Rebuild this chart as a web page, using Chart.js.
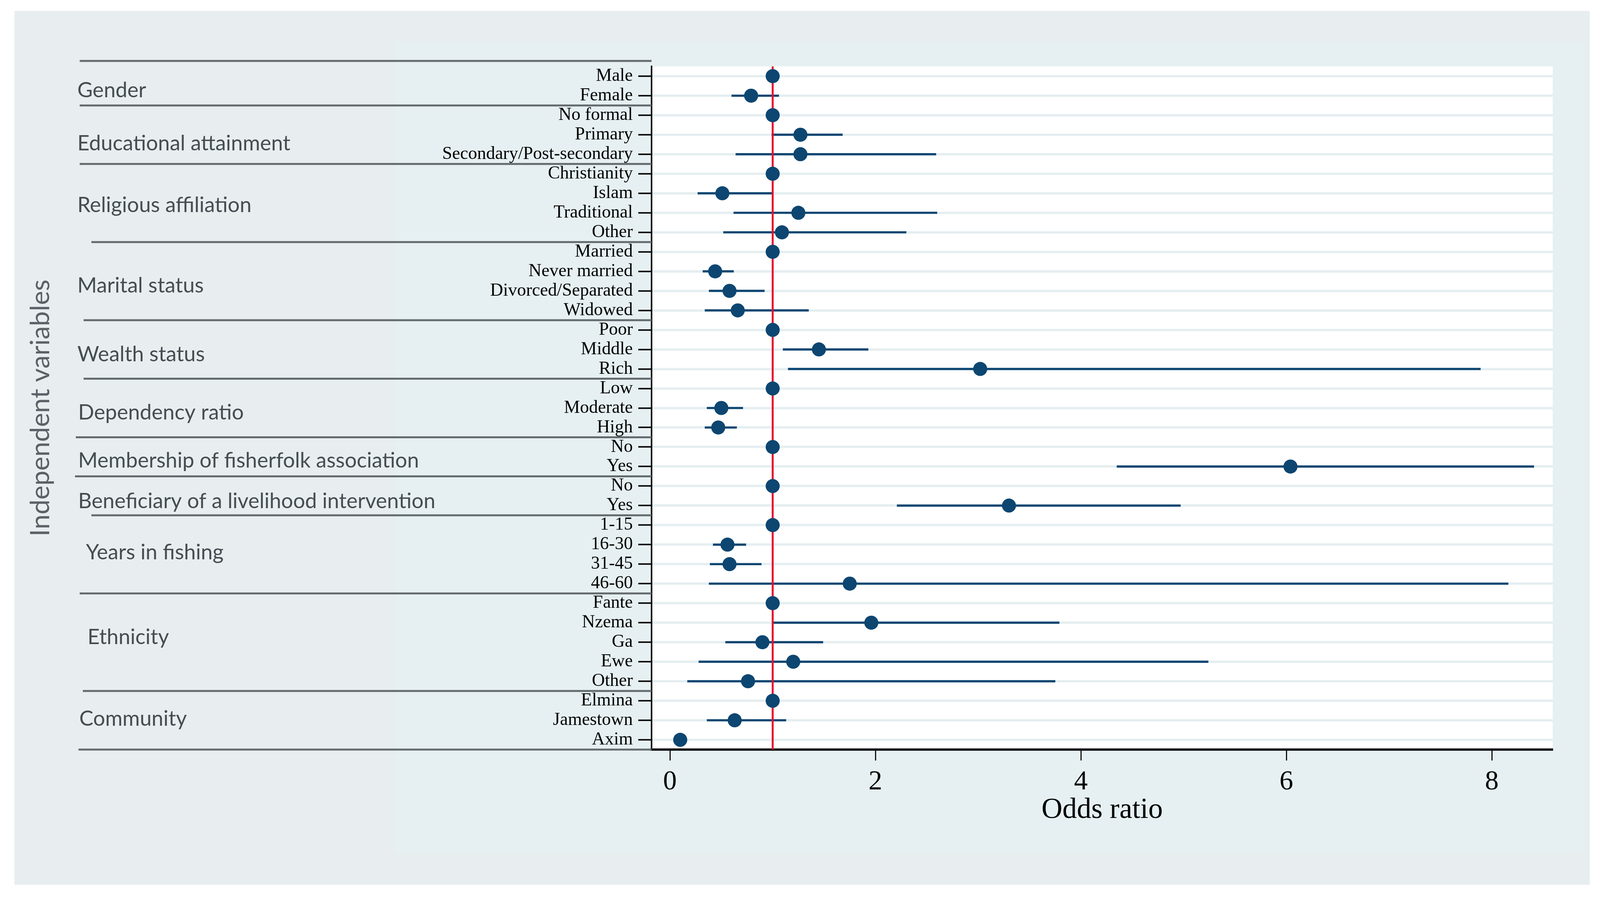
<!DOCTYPE html>
<html>
<head>
<meta charset="utf-8">
<title>Odds ratios</title>
<script src="https://cdn.jsdelivr.net/npm/chart.js@4.4.1/dist/chart.umd.min.js"></script>
<style>
  html, body { margin: 0; padding: 0; background: #ffffff; }
  canvas { display: block; }
</style>
</head>
<body>
<canvas id="orChart" width="4102" height="2299"></canvas>
<script>
// Category rows, top to bottom
const categories = [
    'Male', 'Female',
    'No formal', 'Primary', 'Secondary/Post-secondary',
    'Christianity', 'Islam', 'Traditional', 'Other',
    'Married', 'Never married', 'Divorced/Separated', 'Widowed',
    'Poor', 'Middle', 'Rich',
    'Low', 'Moderate', 'High',
    'No', 'Yes',
    'No', 'Yes',
    '1-15', '16-30', '31-45', '46-60',
    'Fante', 'Nzema', 'Ga', 'Ewe', 'Other',
    'Elmina', 'Jamestown', 'Axim'
];

// Odds ratios (reference categories = 1)
const oddsRatio = [
    1, 0.79,
    1, 1.27, 1.27,
    1, 0.51, 1.25, 1.09,
    1, 0.44, 0.58, 0.66,
    1, 1.45, 3.02,
    1, 0.50, 0.47,
    1, 6.04,
    1, 3.30,
    1, 0.56, 0.58, 1.75,
    1, 1.96, 0.90, 1.20, 0.76,
    1, 0.63, 0.10
];

// 95% confidence intervals (null = reference category, no interval)
const ciLower = [
    null, 0.60,
    null, 0.99, 0.64,
    null, 0.27, 0.62, 0.52,
    null, 0.32, 0.38, 0.34,
    null, 1.10, 1.15,
    null, 0.36, 0.34,
    null, 4.35,
    null, 2.21,
    null, 0.42, 0.39, 0.38,
    null, 1.00, 0.54, 0.28, 0.17,
    null, 0.36, null
];
const ciUpper = [
    null, 1.06,
    null, 1.68, 2.59,
    null, 1.00, 2.60, 2.30,
    null, 0.62, 0.92, 1.35,
    null, 1.93, 7.89,
    null, 0.71, 0.65,
    null, 8.41,
    null, 4.97,
    null, 0.74, 0.89, 8.16,
    null, 3.79, 1.49, 5.24, 3.75,
    null, 1.13, null
];

// Variable groups and how many rows each one covers
const groupNames = [
    'Gender', 'Educational attainment', 'Religious affiliation', 'Marital status',
    'Wealth status', 'Dependency ratio', 'Membership of fisherfolk association',
    'Beneficiary of a livelihood intervention', 'Years in fishing', 'Ethnicity', 'Community'
];
const groupSizes = [2, 3, 4, 4, 3, 3, 2, 2, 4, 5, 3];

const xTicks = [0, 2, 4, 6, 8];
const referenceOdds = 1;

const NAVY = '#0c4671';
const SERIF = "'Liberation Serif', 'Times New Roman', serif";
const SANS = "Lato, 'Open Sans', sans-serif";

const ciData = ciLower.map((lo, i) => (lo === null ? null : [lo, ciUpper[i]]));

// Backgrounds: outer panel, inner panel, white plot area
const backgroundPlugin = {
    id: 'panels',
    beforeDraw(chart) {
        const { ctx, chartArea } = chart;
        ctx.save();
        ctx.fillStyle = '#ffffff';
        ctx.fillRect(0, 0, chart.width, chart.height);
        ctx.fillStyle = '#e8eef0';
        ctx.fillRect(37, 28, 4033, 2237);
        ctx.fillStyle = '#e6f0f2';
        ctx.fillRect(1012, 108, 3041, 2075);
        ctx.fillStyle = '#ffffff';
        ctx.fillRect(chartArea.left, chartArea.top,
            chartArea.right - chartArea.left, chartArea.bottom - chartArea.top);
        ctx.restore();
    }
};

// Red reference line at OR = 1, drawn over the CI bars but under the points
const referencePlugin = {
    id: 'referenceLine',
    afterDatasetDraw(chart, args) {
        if (args.index !== 0) return;
        const { ctx, chartArea } = chart;
        const x = chart.scales.x.getPixelForValue(referenceOdds);
        ctx.save();
        ctx.strokeStyle = '#e3112f';
        ctx.lineWidth = 5;
        ctx.beginPath();
        ctx.moveTo(x, chartArea.top);
        ctx.lineTo(x, chartArea.bottom);
        ctx.stroke();
        ctx.restore();
    }
};

// Group labels and separators in the left margin.
// The original labels were placed by hand, so each one gets a small nudge.
const labelNudgeY = [-1, 10, -7, -1, 0, -1, -2, 2, -17, -25, -16];
const labelIndentX = [0, 0, 0, 0, 0, 2, 2, 2, 22, 26, 5];
const lineStartX = [204, 204, 204, 234, 214, 214, 194, 192, 234, 204, 212, 201];

const groupPlugin = {
    id: 'groups',
    afterDraw(chart) {
        const { ctx } = chart;
        const y = chart.scales.y;
        const half = (y.getPixelForValue(1) - y.getPixelForValue(0)) / 2;
        const lineEnd = chart.chartArea.left;

        const separator = (x0, yy) => {
            ctx.beginPath();
            ctx.moveTo(x0, yy);
            ctx.lineTo(lineEnd, yy);
            ctx.stroke();
        };

        ctx.save();
        ctx.strokeStyle = '#646b6e';
        ctx.lineWidth = 5;
        ctx.fillStyle = '#464d52';
        ctx.font = `54px ${SANS}`;
        ctx.textAlign = 'left';
        ctx.textBaseline = 'alphabetic';

        let start = 0;
        groupNames.forEach((name, g) => {
            const end = start + groupSizes[g] - 1;
            const top = y.getPixelForValue(start) - half - (g === 0 ? 14 : 0);
            separator(lineStartX[g], top);

            const mid = (y.getPixelForValue(start) + y.getPixelForValue(end)) / 2;
            ctx.fillText(name, 198 + labelIndentX[g], mid + 30 + labelNudgeY[g]);
            start = end + 1;
        });
        separator(lineStartX[groupNames.length], y.getPixelForValue(categories.length - 1) + half);
        ctx.restore();
    }
};

const ctx = document.getElementById('orChart').getContext('2d');
new Chart(ctx, {
    type: 'bar',
    data: {
        labels: categories,
        datasets: [
            {
                label: '95% CI',
                data: ciData,
                backgroundColor: NAVY,
                borderWidth: 0,
                barThickness: 5,
                order: 1
            },
            {
                type: 'line',
                label: 'Odds ratio',
                data: oddsRatio,
                showLine: false,
                pointStyle: 'circle',
                pointRadius: 18,
                pointHoverRadius: 18,
                pointBorderWidth: 0,
                pointBackgroundColor: NAVY,
                order: 0
            }
        ]
    },
    options: {
        indexAxis: 'y',
        responsive: false,
        animation: false,
        devicePixelRatio: 1,
        layout: {
            padding: { top: 170, right: 127, left: 0, bottom: 0 }
        },
        plugins: {
            legend: { display: false },
            tooltip: { enabled: false }
        },
        scales: {
            y: {
                type: 'category',
                offset: true,
                afterFit(scale) { scale.width = 1668; },
                grid: {
                    offset: false,
                    color: '#e5eef1',
                    lineWidth: 6,
                    drawTicks: true,
                    tickLength: 34,
                    tickColor: '#111111',
                    tickWidth: 4
                },
                border: { display: true, color: '#111111', width: 4 },
                ticks: {
                    autoSkip: false,
                    padding: 14,
                    color: '#000000',
                    font: { family: SERIF, size: 46 }
                },
                title: {
                    display: true,
                    text: 'Independent variables',
                    color: '#5b6166',
                    font: { family: SANS, size: 68 },
                    padding: { top: 63, bottom: 0 }
                }
            },
            x: {
                type: 'linear',
                min: -0.179,
                max: 8.593,
                afterFit(scale) { scale.height = 380; },
                afterBuildTicks(scale) {
                    scale.ticks = xTicks.map(v => ({ value: v }));
                },
                grid: {
                    drawOnChartArea: false,
                    drawTicks: true,
                    tickLength: 28,
                    tickColor: '#111111',
                    tickWidth: 3
                },
                border: { display: true, color: '#111111', width: 6 },
                ticks: {
                    includeBounds: false,
                    stepSize: 2,
                    padding: 14,
                    color: '#000000',
                    font: { family: SERIF, size: 70 }
                },
                title: {
                    display: true,
                    text: 'Odds ratio',
                    color: '#000000',
                    font: { family: SERIF, size: 74 },
                    padding: { top: 0, bottom: 180 }
                }
            }
        }
    },
    plugins: [backgroundPlugin, referencePlugin, groupPlugin]
});
</script>
</body>
</html>
